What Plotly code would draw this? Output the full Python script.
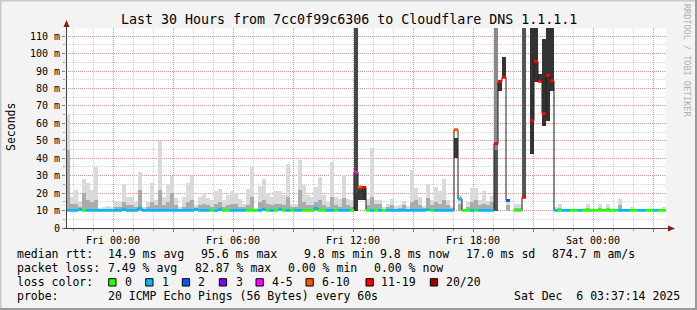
import math
import plotly.graph_objects as go

# ---------------- data ----------------
# time axis in hours relative to Fri 00:00, 150 bins of 12 minutes
T_START = -2.35
BIN_H = 0.2
N_BINS = 150

nan = float("nan")

smoke_hi = [
    65, 18, 22, 15, 28, 26, 22, 35, 11.5, 12,
    12.5, 12, 15.5, 15, 25, 18, 17.5, 15, 32, 12,
    15, 26, 16, 50, 18, 25, 30, 17, 12, 17.5,
    26, 30, 13, 18, 20, 17, 16, 21, 22.5, 16,
    19, 21.5, 20, 16.5, 14, 22.5, 35, 11.5, 24, 28,
    20, 17.5, 21.5, 21.5, 19, 36.5, 14, 14, 39, 24.5,
    19, 18, 23.5, 29, 19, 15, 38, 17.5, 16.5, 30.5,
    16.6, 16, 118, 24.3, 23.3, 16.6, 45.8, 16.2, 16.2, 12,
    14, 16.7, 12.5, 13, 15.6, 12.5, 33.4, 23, 18, 12.8,
    25.2, 16, 23.4, 21.5, 28, 16.2, 12.5, 51.6, 19, 10.5,
    14.7, 22.8, 22.8, 16.2, 21.3, 15.5, 18.5, 118, 84, 98.2,
    15.5, nan, 13.6, 13.6, 118, nan, 118, 118, 88.5, 108.5,
    118, 118, 12.2, 13.5, 11, 10.8, 10.8, 11, 11, 11.5,
    13.5, 11, 11, 13.5, 11, 13.5, 11, 11, 16.4, 11,
    11, 12.2, 11, 11, 11, 11, 11, 11, 11, 12.2,
]

smoke_mid = [
    45, 14, 14, 12, 20, 16, 15, 16, 10.5, 11,
    11, 11, 12, 12, 15, 13, 13, 12, 22, 11,
    12, 15, 13, 22, 13, 15, 20, 13, 11, 12,
    15, 16, 11.5, 13, 14, 13, 12, 14, 15, 12,
    13, 14, 14, 12, 12, 13, 18, 10.5, 15, 16,
    14, 13, 14, 14, 13, 18, 12, 12, 22, 15,
    13, 13, 15, 16, 13, 12, 18, 13, 12, 17,
    13, 12, 20, 24.3, 23.3, 13, 18, 14, 14, 11,
    12, 13, 11, 11.5, 13, 11, 15, 16, 13, 11.5,
    17, 13, 15, 14, 16, 13, 11.5, 51.6, 14, 10.5,
    12, 15, 16, 13, 14, 13, 15, 45, 84, 98.2,
    13, nan, 11.5, 11.5, 118, nan, 118, 118, 88.5, 108.5,
    118, 118, 11, 11.5, 10.5, 10.5, 10.5, 10.5, 10.5, 11,
    11.5, 10.5, 10.5, 11.5, 10.5, 11.5, 10.5, 10.5, 13, 10.5,
    10.5, 11, 10.5, 10.5, 10.5, 10.5, 10.5, 10.5, 10.5, 11,
]

smoke_lo = [
    9.8, 9.8, 9.8, 9.8, 9.8, 9.8, 9.8, 9.8, 9.8, 9.8,
    9.8, 9.8, 9.8, 9.8, 9.8, 9.8, 9.8, 9.8, 9.8, 9.8,
    9.8, 9.8, 9.8, 9.8, 9.8, 9.8, 9.8, 9.8, 9.8, 9.8,
    9.8, 9.8, 9.8, 9.8, 9.8, 9.8, 9.8, 9.8, 9.8, 9.8,
    9.8, 9.8, 9.8, 9.8, 9.8, 9.8, 9.8, 9.8, 9.8, 9.8,
    9.8, 9.8, 9.8, 9.8, 9.8, 9.8, 9.8, 9.8, 9.8, 9.8,
    9.8, 9.8, 9.8, 9.8, 9.8, 9.8, 9.8, 9.8, 9.8, 9.8,
    9.8, 9.8, 9.8, 16.2, 16.2, 9.8, 9.8, 9.8, 9.8, 9.8,
    9.8, 9.8, 9.8, 9.8, 9.8, 9.8, 9.8, 9.8, 9.8, 9.8,
    9.8, 9.8, 9.8, 9.8, 9.8, 9.8, 9.8, 40.4, 9.8, 9.8,
    9.8, 9.8, 9.8, 9.8, 9.8, 9.8, 9.8, 9.8, 78.4, 86.0,
    9.8, nan, 9.8, 9.8, 18.4, nan, 42.6, 84.0, 84.0, 58.7,
    61.3, 78.4, 9.8, 9.8, 9.8, 9.8, 9.8, 9.8, 9.8, 9.8,
    9.8, 9.8, 9.8, 9.8, 9.8, 9.8, 9.8, 9.8, 9.8, 9.8,
    9.8, 9.8, 9.8, 9.8, 9.8, 9.8, 9.8, 9.8, 9.8, 9.8,
]

median = [
    10.1, 10.1, 10.1, 10.6, 10.1, 10.1, 10.1, 10.1, 10.1, 10.1,
    10.1, 10.1, 10.1, 10.1, 10.8, 10.1, 10.1, 10.1, 11.3, 10.1,
    10.1, 10.1, 10.1, 10.1, 10.1, 10.1, 10.1, 10.1, 10.1, 10.1,
    10.1, 10.1, 10.8, 10.1, 10.1, 10.1, 10.1, 10.1, 10.8, 10.1,
    10.1, 10.1, 10.1, 10.1, 10.1, 10.1, 10.1, 10.1, 10.1, 10.8,
    10.1, 10.1, 10.1, 10.8, 10.1, 10.1, 10.1, 10.1, 10.1, 10.1,
    10.1, 10.1, 11.3, 10.1, 10.1, 10.1, 10.1, 10.1, 10.1, 10.1,
    10.1, 10.1, 32.1, 23.5, 23.3, 10.1, 10.1, 10.1, 10.1, 10.1,
    10.1, 10.1, 10.1, 10.1, 10.1, 10.1, 10.1, 10.1, 10.1, 10.1,
    10.4, 10.1, 10.1, 10.1, 10.1, 10.1, 10.1, 56.4, 16.6, 10.1,
    10.1, 10.1, 10.1, 10.1, 10.1, 10.1, 10.1, 48.3, 84.0, 86.5,
    15.8, nan, 10.1, 10.1, 17.6, nan, 61.5, 95.6, 84.2, 65.7,
    87.5, 84.4, 10.1, 10.1, 10.1, 10.1, 10.1, 10.1, 10.1, 10.1,
    10.1, 10.1, 10.1, 10.1, 10.1, 10.1, 10.1, 10.1, 10.1, 10.1,
    10.1, 10.1, 10.1, 10.1, 10.1, 10.1, 10.1, 10.1, 10.1, 10.1,
]

loss = [
    1, 1, 1, 1, 0, 1, 1, 1, 1, 1,
    1, 1, 1, 1, 1, 1, 1, 1, 1, 1,
    1, 1, 1, 1, 1, 1, 1, 1, 1, 1,
    1, 1, 1, 1, 1, 1, 0, 1, 1, 0,
    0, 1, 1, 1, 1, 0, 0, 0, 1, 1,
    0, 1, 0, 1, 0, 1, 0, 1, 1, 0,
    0, 0, 1, 0, 0, 1, 1, 0, 1, 1,
    1, 0, 5, 8, 13, 0, 1, 0, 1, 0,
    1, 1, 1, 1, 1, 1, 1, 1, 1, 1,
    1, 0, 1, 1, 1, 1, 1, 8, 1, 0,
    0, 1, 0, 1, 1, 1, 1, 11, 15, 15,
    2, 20, 0, 0, 12, 20, 16, 17, 16, 17,
    16, 16, 1, 0, 1, 1, 0, 0, 1, 0,
    0, 0, 0, 0, 0, 0, 0, 0, 1, 1,
    1, 0, 0, 1, 1, 0, 0, 1, 0, 0,
]

x_tick_hours = [0, 3, 6, 9, 12, 15, 18, 21, 24, 27]
x_tick_labels = ["Fri 00:00", "", "Fri 06:00", "", "Fri 12:00", "", "Fri 18:00", "", "Sat 00:00", ""]
y_tick_vals = [0, 10, 20, 30, 40, 50, 60, 70, 80, 90, 100, 110]
y_tick_labels = ["0", "10 m", "20 m", "30 m", "40 m", "50 m", "60 m", "70 m", "80 m", "90 m", "100 m", "110 m"]

title_text = "Last 30 Hours from 7cc0f99c6306 to Cloudflare DNS 1.1.1.1"
rtt_label = "median rtt:"
rtt_stats = ["14.9 ms avg", "95.6 ms max", "9.8 ms min", "9.8 ms now", "17.0 ms sd", "874.7 m am/s"]
loss_label = "packet loss:"
loss_stats = ["7.49 % avg", "82.87 % max", "0.00 % min", "0.00 % now"]
color_label = "loss color:"
loss_legend = ["0", "1", "2", "3", "4-5", "6-10", "11-19", "20/20"]
probe_label = "probe:"
probe_text = "20 ICMP Echo Pings (56 Bytes) every 60s"
stamp_text = "Sat Dec\u00a0\u00a06 03:37:14 2025"
watermark = "RRDTOOL / TOBI OETIKER"

# ---------------- styling helpers ----------------
LOSS_COLORS = ["#26ff00", "#00b8ff", "#0059ff", "#7e00ff", "#ff00ff", "#ff5500", "#ff0000", "#a10000"]
MARK_HALF = 0.85  # half height of the loss-coloured median marker (ms)


def loss_cat(l):
    if l <= 0:
        return 0
    if l <= 1:
        return 1
    if l <= 2:
        return 2
    if l <= 3:
        return 3
    if l <= 5:
        return 4
    if l <= 10:
        return 5
    if l < 20:
        return 6
    return 7


def outer_color(l):
    if l <= 3:
        return "#dadada"
    if l <= 10:
        return "#474747"
    if l <= 12:
        return "#8a8a8a"
    return "#3d3d3d"


def inner_color(l):
    if l <= 3:
        return "#ababab"
    if l <= 10:
        return "#3a3a3a"
    if l <= 12:
        return "#555555"
    return "#333333"


def ok(v):
    return v is not None and not (isinstance(v, float) and math.isnan(v))


starts = [T_START + BIN_H * i for i in range(N_BINS)]
centers = [s + BIN_H / 2 for s in starts]

fig = go.Figure()

# smoke, outer band
fig.add_trace(go.Bar(
    x=centers,
    base=[lo if ok(lo) else None for lo in smoke_lo],
    y=[(hi - lo) if ok(hi) and ok(lo) else None for hi, lo in zip(smoke_hi, smoke_lo)],
    width=BIN_H,
    marker=dict(color=[outer_color(l) for l in loss], line=dict(width=0)),
    hoverinfo="skip",
))
# smoke, inner band
fig.add_trace(go.Bar(
    x=centers,
    base=[lo if ok(lo) else None for lo in smoke_lo],
    y=[(mi - lo) if ok(mi) and ok(lo) else None for mi, lo in zip(smoke_mid, smoke_lo)],
    width=BIN_H,
    marker=dict(color=[inner_color(l) for l in loss], line=dict(width=0)),
    hoverinfo="skip",
))

# median black step line
mx, my = [], []
for s, m in zip(starts, median):
    if ok(m):
        mx += [s, s + BIN_H]
        my += [m, m]
    else:
        mx.append(None)
        my.append(None)
fig.add_trace(go.Scatter(x=mx, y=my, mode="lines", line=dict(color="#202020", width=1),
                         hoverinfo="skip", connectgaps=False))

# loss coloured median markers (filled rectangles)
for c in range(len(LOSS_COLORS)):
    cx, cy = [], []
    for s, m, l in zip(starts, median, loss):
        if ok(m) and loss_cat(l) == c:
            e = s + BIN_H
            cx += [s, e, e, s, s, None]
            cy += [m - MARK_HALF, m - MARK_HALF, m + MARK_HALF, m + MARK_HALF, m - MARK_HALF, None]
    if cx:
        fig.add_trace(go.Scatter(x=cx, y=cy, mode="lines", fill="toself",
                                 fillcolor=LOSS_COLORS[c],
                                 line=dict(color=LOSS_COLORS[c], width=0),
                                 hoverinfo="skip"))

# ---------------- layout ----------------
L, R, T, B = 66, 31, 28, 82
W, H = 697, 310
PW, PH = W - L - R, H - T - B


def px(x):
    return (x - L) / PW


def py(y):
    return (T + PH - y) / PH


MONO = "DejaVu Sans Mono"
MAJ = "rgba(255,0,0,0.30)"
MIN = "rgba(120,120,120,0.32)"

fig.update_layout(
    width=W, height=H,
    margin=dict(l=L, r=R, t=T, b=B),
    paper_bgcolor="#f3f3f3", plot_bgcolor="#ffffff",
    showlegend=False, barmode="overlay", bargap=0,
    font=dict(family=MONO, size=10, color="#000000"),
    xaxis=dict(range=[T_START, T_START + N_BINS * BIN_H], tickvals=x_tick_hours, ticktext=x_tick_labels,
               showgrid=True, gridcolor=MAJ, griddash="1px,1px", gridwidth=1,
               ticks="outside", ticklen=3, tickcolor="#808080", zeroline=False, showline=False,
               tickfont=dict(family=MONO, size=10),
               minor=dict(dtick=1, tick0=0, showgrid=True, gridcolor=MIN, griddash="1px,1px",
                          ticks="outside", ticklen=2, tickcolor="#a0a0a0"),
               fixedrange=True),
    yaxis=dict(range=[0, 114.7], tickvals=y_tick_vals, ticktext=y_tick_labels,
               showgrid=True, gridcolor=MAJ, griddash="1px,1px", gridwidth=1,
               ticks="outside", ticklen=3, tickcolor="#808080", zeroline=False, showline=False,
               tickfont=dict(family=MONO, size=10),
               minor=dict(dtick=5, tick0=0, showgrid=True, gridcolor=MIN, griddash="1px,1px",
                          ticks="outside", ticklen=2, tickcolor="#a0a0a0"),
               fixedrange=True),
)

shapes = []
# frame
shapes.append(dict(type="line", xref="paper", yref="paper", x0=px(0.5), x1=px(0.5), y0=py(0), y1=py(310),
                   line=dict(color="#c8c8c8", width=2), layer="above"))
shapes.append(dict(type="line", xref="paper", yref="paper", x0=px(0), x1=px(697), y0=py(0.5), y1=py(0.5),
                   line=dict(color="#c8c8c8", width=2), layer="above"))
shapes.append(dict(type="line", xref="paper", yref="paper", x0=px(696), x1=px(696), y0=py(0), y1=py(310),
                   line=dict(color="#9a9a9a", width=2), layer="above"))
shapes.append(dict(type="line", xref="paper", yref="paper", x0=px(0), x1=px(697), y0=py(309), y1=py(309),
                   line=dict(color="#9a9a9a", width=2), layer="above"))
# axes
shapes.append(dict(type="line", xref="paper", yref="paper", x0=px(66.5), x1=px(66.5), y0=py(229), y1=py(24),
                   line=dict(color="#404040", width=1), layer="above"))
shapes.append(dict(type="line", xref="paper", yref="paper", x0=px(64), x1=px(670), y0=py(228.5), y1=py(228.5),
                   line=dict(color="#404040", width=1), layer="above"))
# arrows
shapes.append(dict(type="path", xref="paper", yref="paper",
                   path=f"M {px(63.5)} {py(27)} L {px(69.5)} {py(27)} L {px(66.5)} {py(20)} Z",
                   fillcolor="#8b1a1a", line=dict(color="#8b1a1a", width=0), layer="above"))
shapes.append(dict(type="path", xref="paper", yref="paper",
                   path=f"M {px(668)} {py(225.5)} L {px(668)} {py(231.5)} L {px(675)} {py(228.5)} Z",
                   fillcolor="#8b1a1a", line=dict(color="#8b1a1a", width=0), layer="above"))

ann = []


def text(x, y, s, size=11.5, anchor="left", color="#000000", angle=0):
    ann.append(dict(xref="paper", yref="paper", x=px(x), y=py(y), text=s, showarrow=False,
                    xanchor=anchor, yanchor="middle", borderpad=0, textangle=angle,
                    font=dict(family=MONO, size=size, color=color)))


text(348.5, 19, title_text, size=13.3, anchor="center")
text(11, 127, "Seconds", size=11.5, anchor="center", angle=-90)
text(687, 60, watermark, size=8.5, anchor="center", color="#b0b0b0", angle=90)

ROWS = [254.3, 268.3, 282.3, 296]
text(16, ROWS[0], rtt_label)
for xpos, s in zip([107.3, 200, 302.7, 379.3, 465.3, 551], rtt_stats):
    text(xpos, ROWS[0], s)
text(16, ROWS[1], loss_label)
for xpos, s in zip([107.3, 194, 286.7, 372.7], loss_stats):
    text(xpos, ROWS[1], s)
text(16, ROWS[2], color_label)
box_x = [108.7, 145.7, 182.3, 219.3, 256, 306, 366, 430.3]
lab_x = [124, 161, 197.3, 234.7, 271, 321, 380.3, 445.3]
for bx, lx, s, col in zip(box_x, lab_x, loss_legend, LOSS_COLORS):
    shapes.append(dict(type="rect", xref="paper", yref="paper", x0=px(bx), x1=px(bx + 7.3),
                       y0=py(286), y1=py(278.7), fillcolor=col, line=dict(color="#000000", width=1),
                       layer="above"))
    text(lx, ROWS[2], s)
text(16, ROWS[3], probe_label)
text(107.3, ROWS[3], probe_text)
text(680.5, ROWS[3], stamp_text, anchor="right")

fig.update_layout(shapes=shapes, annotations=ann)

fig.write_html("out.html")
